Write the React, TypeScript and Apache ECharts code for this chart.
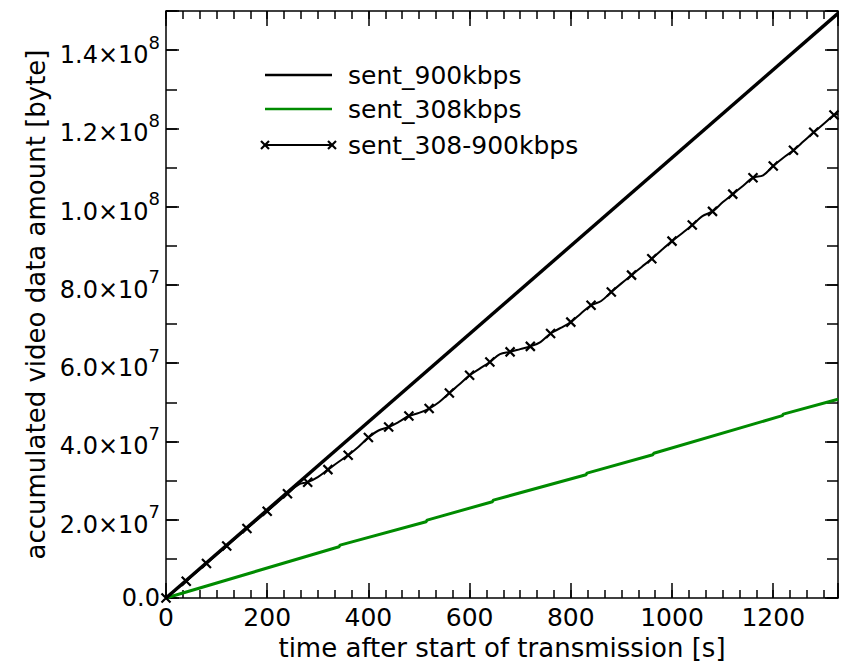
import React, { useEffect, useRef } from "react";
import * as echarts from "echarts";

const FONT = "DejaVu Sans";

// time axis extent [s]
const X_MAX = 1328;
const Y_MAX = 1.5e8;

// sent_900kbps (constant rate 900 kbps)
const sent900T = [0, 1328];
const sent900V = [0, 1.494e8];

// sent_308kbps (small steps in the otherwise constant rate)
const sent308T = [0, 342, 344, 514, 516, 645, 647, 830, 832, 962, 964, 1218, 1220, 1328];
const sent308V = [0, 1.31e7, 1.35e7, 1.95e7, 1.99e7, 2.46e7, 2.5e7, 3.15e7, 3.19e7, 3.66e7, 3.7e7, 4.66e7, 4.7e7, 5.08e7];

// sent_308-900kbps: points carrying a marker
const mixMarkT = [0, 40, 80, 120, 160, 200, 240, 280, 320, 360, 400, 440, 480, 520, 560, 600, 640, 680, 720, 760, 800, 840, 880, 920, 960, 1000, 1040, 1080, 1120, 1160, 1200, 1240, 1280, 1320];
const mixMarkV = [0, 4.3e6, 8.8e6, 1.33e7, 1.775e7, 2.215e7, 2.665e7, 2.96e7, 3.28e7, 3.65e7, 4.1e7, 4.37e7, 4.65e7, 4.84e7, 5.24e7, 5.69e7, 6.03e7, 6.29e7, 6.43e7, 6.76e7, 7.05e7, 7.48e7, 7.82e7, 8.25e7, 8.67e7, 9.12e7, 9.53e7, 9.88e7, 1.032e8, 1.074e8, 1.104e8, 1.144e8, 1.19e8, 1.234e8];
// sent_308-900kbps: intermediate points (no marker)
const mixMidT = [262, 300, 340, 380, 420, 460, 500, 540, 580, 620, 660, 700, 740, 780, 820, 860, 900, 940, 980, 1020, 1060, 1100, 1140, 1180, 1220, 1260, 1300, 1328];
const mixMidV = [2.9e7, 3.09e7, 3.47e7, 3.86e7, 4.28e7, 4.5e7, 4.73e7, 5.01e7, 5.46e7, 5.86e7, 6.23e7, 6.36e7, 6.54e7, 6.9e7, 7.27e7, 7.59e7, 8.04e7, 8.46e7, 8.9e7, 9.32e7, 9.76e7, 1.011e8, 1.053e8, 1.08e8, 1.125e8, 1.167e8, 1.212e8, 1.237e8];

const legendNames = ["sent_900kbps", "sent_308kbps", "sent_308-900kbps"];
const GREEN = "#008b00";
const CROSS = "path://M0,0 L10,10 M10,0 L0,10";

const yFormatter = (v: number) => {
  if (v === 0) return "0.0";
  if (Math.abs(v / 2e7 - Math.round(v / 2e7)) > 1e-6) return "";
  const e = Math.floor(Math.log10(v) + 1e-9);
  const m = (v / Math.pow(10, e)).toFixed(1);
  return `{m|${m}\u00d710}{s|${e}}`;
};
const xFormatter = (v: number) => (Math.abs(v / 200 - Math.round(v / 200)) > 1e-6 ? "" : String(Math.round(v)));

export default function App() {
  const ref = useRef<HTMLDivElement>(null);
  useEffect(() => {
    if (!ref.current) return;
    const chart = echarts.init(ref.current, null, { renderer: "svg" });

    const mixData: any[] = [];
    mixMarkT.forEach((t, i) => mixData.push({ value: [t, mixMarkV[i]] }));
    mixMidT.forEach((t, i) => mixData.push({ value: [t, mixMidV[i]], symbol: "none" }));
    mixData.sort((a, b) => a.value[0] - b.value[0]);

    const tickStyle = { color: "#000", width: 1.5 };
    const xCommon = { type: "value", min: 0, max: X_MAX, splitLine: { show: false }, axisLine: { show: false, onZero: false } };
    const yCommon = { type: "value", min: 0, max: Y_MAX, splitLine: { show: false }, axisLine: { show: false, onZero: false } };

    const lx1 = 265, lx2 = 332, ltx = 348;
    const rows = [75, 109, 145];
    const cross = (cx: number, cy: number) => [
      { type: "line", shape: { x1: cx - 4, y1: cy - 4, x2: cx + 4, y2: cy + 4 }, style: { stroke: "#000", lineWidth: 2.2 } },
      { type: "line", shape: { x1: cx - 4, y1: cy + 4, x2: cx + 4, y2: cy - 4 }, style: { stroke: "#000", lineWidth: 2.2 } },
    ];

    chart.setOption({
      animation: false,
      backgroundColor: "#fff",
      grid: { left: 166, right: 7, top: 11, bottom: 68, show: true, borderColor: "#000", borderWidth: 1.5, backgroundColor: "transparent" },
      xAxis: [
        {
          ...xCommon, position: "bottom", interval: 200,
          axisTick: { inside: true, length: 15, lineStyle: tickStyle },
          axisLabel: { formatter: xFormatter, fontFamily: FONT, fontSize: 25, color: "#000", margin: 7 },
          name: "time after start of transmission [s]", nameLocation: "middle", nameGap: 29,
          nameTextStyle: { fontFamily: FONT, fontSize: 26, color: "#000" },
        },
        { ...xCommon, position: "bottom", interval: 200 / 6, axisTick: { inside: true, length: 8, lineStyle: tickStyle }, axisLabel: { show: false } },
        { ...xCommon, position: "top", interval: 200, axisTick: { inside: true, length: 15, lineStyle: tickStyle }, axisLabel: { show: false } },
        { ...xCommon, position: "top", interval: 200 / 6, axisTick: { inside: true, length: 8, lineStyle: tickStyle }, axisLabel: { show: false } },
      ],
      yAxis: [
        {
          ...yCommon, position: "left", interval: 2e7,
          axisTick: { inside: true, length: 13, lineStyle: tickStyle },
          axisLabel: {
            formatter: yFormatter, fontFamily: FONT, fontSize: 24, color: "#000", margin: 6,
            rich: {
              m: { fontFamily: FONT, fontSize: 24, color: "#000", lineHeight: 34, verticalAlign: "bottom" },
              s: { fontFamily: FONT, fontSize: 18, color: "#000", lineHeight: 18, verticalAlign: "top" },
            },
          },
          name: "accumulated video data amount [byte]", nameLocation: "middle", nameGap: 110, nameRotate: 90,
          nameTextStyle: { fontFamily: FONT, fontSize: 26, color: "#000" },
        },
        { ...yCommon, position: "left", interval: 1e7, axisTick: { inside: true, length: 11, lineStyle: tickStyle }, axisLabel: { show: false } },
        { ...yCommon, position: "right", interval: 2e7, axisTick: { inside: true, length: 13, lineStyle: tickStyle }, axisLabel: { show: false } },
        { ...yCommon, position: "right", interval: 1e7, axisTick: { inside: true, length: 11, lineStyle: tickStyle }, axisLabel: { show: false } },
      ],
      series: [
        {
          name: legendNames[1], type: "line", xAxisIndex: 0, yAxisIndex: 0, showSymbol: false, symbol: "none",
          data: sent308T.map((t, i) => [t, sent308V[i]]),
          lineStyle: { color: GREEN, width: 3 }, itemStyle: { color: GREEN },
        },
        {
          name: legendNames[0], type: "line", xAxisIndex: 0, yAxisIndex: 0, showSymbol: false, symbol: "none",
          data: sent900T.map((t, i) => [t, sent900V[i]]),
          lineStyle: { color: "#000", width: 3.4 }, itemStyle: { color: "#000" },
        },
        {
          name: legendNames[2], type: "line", xAxisIndex: 0, yAxisIndex: 0, smooth: 0.35,
          symbol: CROSS, symbolSize: 9, showAllSymbol: true,
          data: mixData,
          lineStyle: { color: "#000", width: 2 },
          itemStyle: { color: "transparent", borderColor: "#000", borderWidth: 2.2 },
        },
      ],
      graphic: [
        { type: "line", shape: { x1: lx1, y1: rows[0], x2: lx2, y2: rows[0] }, style: { stroke: "#000", lineWidth: 2.5 } },
        { type: "line", shape: { x1: lx1, y1: rows[1], x2: lx2, y2: rows[1] }, style: { stroke: GREEN, lineWidth: 2.5 } },
        { type: "line", shape: { x1: lx1, y1: rows[2], x2: lx2, y2: rows[2] }, style: { stroke: "#000", lineWidth: 2 } },
        ...cross(lx1, rows[2]),
        ...cross(lx2, rows[2]),
        ...legendNames.map((n, i) => ({
          type: "text", x: ltx, y: rows[i],
          style: { text: n, fontFamily: FONT, fontSize: 25, fill: "#000", verticalAlign: "middle", align: "left" },
        })),
      ],
    });
    return () => chart.dispose();
  }, []);
  return <div ref={ref} style={{ width: 845, height: 666, position: "absolute", left: 0, top: 0 }} />;
}
